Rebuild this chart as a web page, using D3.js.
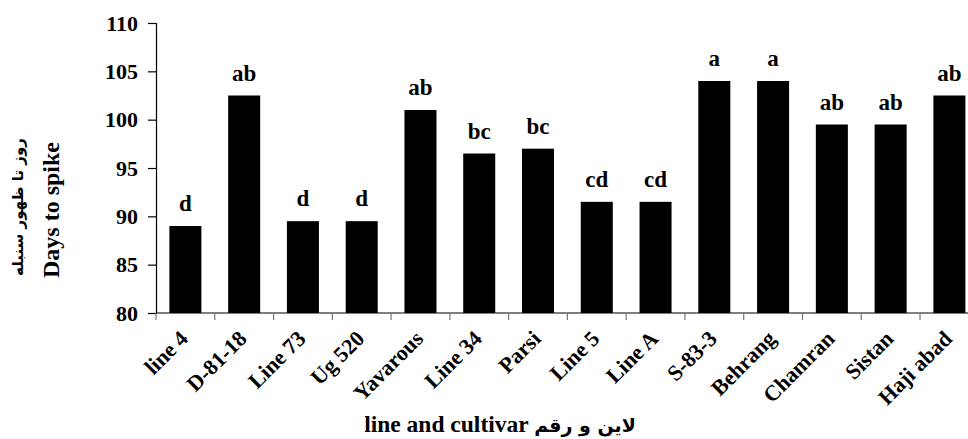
<!DOCTYPE html>
<html>
<head>
<meta charset="utf-8">
<script src="https://cdn.jsdelivr.net/npm/d3@7"></script>
<style>
  body { margin: 0; background: #fff; }
  text { font-family: "Liberation Serif", "Times New Roman", serif; font-weight: bold; fill: #000; }
  .fa { font-family: "DejaVu Sans", "Noto Sans", sans-serif; }
</style>
</head>
<body>
<div id="chart"></div>
<script>
// cultivars / lines on the x axis
var categories = ["line 4", "D-81-18", "Line 73", "Ug 520", "Yavarous", "Line 34", "Parsi",
  "Line 5", "Line A", "S-83-3", "Behrang", "Chamran", "Sistan", "Haji abad"];
// days to spike
var values = [89, 102.5, 89.5, 89.5, 101, 96.5, 97, 91.5, 91.5, 104, 104, 99.5, 99.5, 102.5];
// mean comparison letters above the bars
var letters = ["d", "ab", "d", "d", "ab", "bc", "bc", "cd", "cd", "a", "a", "ab", "ab", "ab"];
var yTicks = [80, 85, 90, 95, 100, 105, 110];

var width = 968, height = 439;
var margin = { left: 156, top: 23, bottom: 126 };
var step = 58.77;
var pad = 0.455;

var svg = d3.select("#chart").append("svg")
  .attr("width", width)
  .attr("height", height);

var x = d3.scaleBand()
  .domain(categories)
  .range([margin.left, margin.left + step * categories.length])
  .paddingInner(pad)
  .paddingOuter(pad / 2);

var y = d3.scaleLinear()
  .domain([80, 110])
  .range([height - margin.bottom, margin.top]);

var y0 = y(80);

// bars
svg.append("g")
  .selectAll("rect")
  .data(values)
  .enter().append("rect")
  .attr("x", (d, i) => x(categories[i]))
  .attr("y", d => y(d))
  .attr("width", x.bandwidth())
  .attr("height", d => y0 - y(d))
  .attr("fill", "#000");

// letters
svg.append("g")
  .selectAll("text")
  .data(values)
  .enter().append("text")
  .attr("x", (d, i) => x(categories[i]) + x.bandwidth() / 2)
  .attr("y", d => y(d) - 15)
  .attr("text-anchor", "middle")
  .style("font-size", "23px")
  .text((d, i) => letters[i]);

// y axis
var yAxis = svg.append("g")
  .attr("transform", "translate(" + margin.left + ",0)")
  .call(d3.axisLeft(y).tickValues(yTicks).tickSize(8).tickPadding(10));
yAxis.select(".domain").attr("stroke", "#000").attr("stroke-width", 1.2);
yAxis.selectAll(".tick line").attr("stroke", "#000").attr("stroke-width", 1.2);
yAxis.selectAll(".tick text")
  .style("font-size", "22px")
  .attr("font-family", null);

// x axis: line plus ticks at category boundaries
svg.append("line")
  .attr("x1", margin.left)
  .attr("x2", width)
  .attr("y1", y0)
  .attr("y2", y0)
  .attr("stroke", "#000")
  .attr("stroke-width", 1.2);

var sw = x.step();
svg.append("g")
  .selectAll("line")
  .data(categories)
  .enter().append("line")
  .attr("x1", d => x(d) - sw * pad / 2)
  .attr("x2", d => x(d) - sw * pad / 2)
  .attr("y1", y0)
  .attr("y2", y0 + 7)
  .attr("stroke", "#777")
  .attr("stroke-width", 1.2);

svg.append("g")
  .selectAll("text")
  .data(categories)
  .enter().append("text")
  .attr("transform", d => "translate(" + (x(d) + x.bandwidth() / 2 + 4) + "," + (y0 + 27) + ") rotate(-45)")
  .attr("text-anchor", "end")
  .style("font-size", "22px")
  .text(d => d);

// axis titles
svg.append("text")
  .attr("x", 500)
  .attr("y", 432)
  .attr("text-anchor", "middle")
  .style("font-size", "23.5px")
  .html('line and cultivar <tspan class="fa" style="font-size:19px">لاین و رقم</tspan>');

svg.append("text")
  .attr("transform", "translate(59,210) rotate(-90)")
  .attr("text-anchor", "middle")
  .style("font-size", "24px")
  .text("Days to spike");

svg.append("text")
  .attr("class", "fa")
  .attr("transform", "translate(23,207) rotate(-90)")
  .attr("text-anchor", "middle")
  .style("font-size", "15px")
  .text("روز تا ظهور سنبله");
</script>
</body>
</html>
